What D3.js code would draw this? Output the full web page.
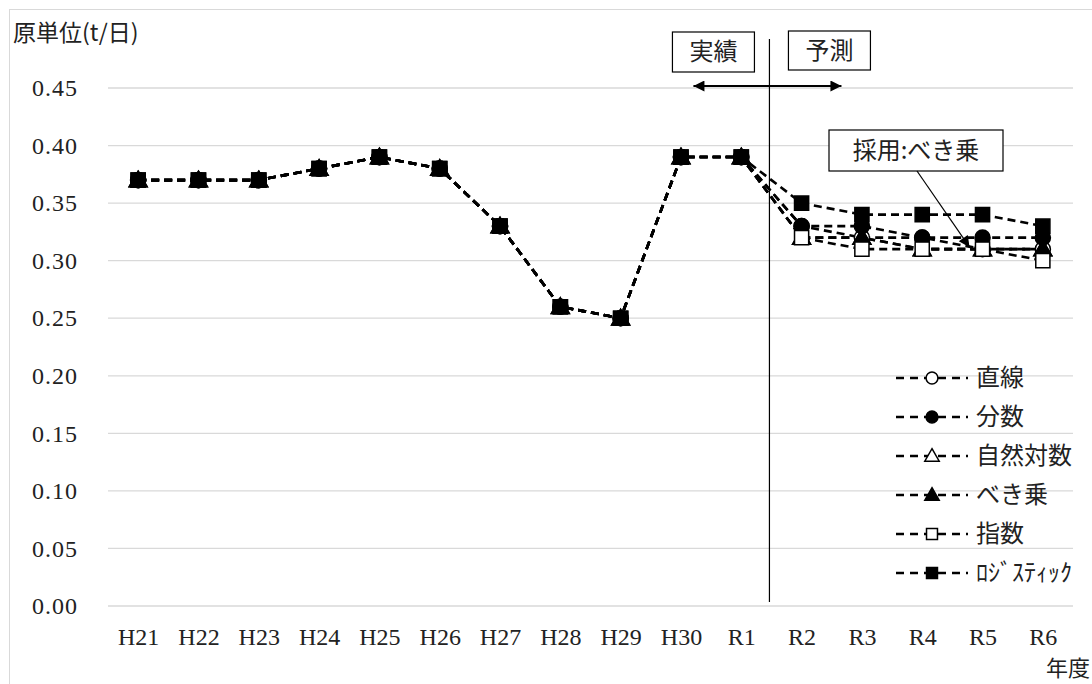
<!DOCTYPE html>
<html><head><meta charset="utf-8">
<script src="https://cdn.jsdelivr.net/npm/d3@7"></script>
<style>body{margin:0;background:#fff}svg{display:block}</style>
</head><body>
<svg id="c" width="1092" height="684"></svg>
<script>
const categories = ["H21","H22","H23","H24","H25","H26","H27","H28","H29","H30","R1","R2","R3","R4","R5","R6"];
const actual = [0.37,0.37,0.37,0.38,0.39,0.38,0.33,0.26,0.25,0.39,0.39];
const forecastLinear   = [0.33,0.32,0.32,0.31,0.31];
const forecastFraction = [0.33,0.33,0.32,0.32,0.32];
const forecastLog      = [0.32,0.32,0.31,0.31,0.31];
const forecastPower    = [0.32,0.32,0.31,0.31,0.31];
const forecastExp      = [0.32,0.31,0.31,0.31,0.30];
const forecastLogistic = [0.35,0.34,0.34,0.34,0.33];
const seriesNames = ["直線","分数","自然対数","べき乗","指数","ﾛｼﾞｽﾃｨｯｸ"];
const yTicks = [0,0.05,0.10,0.15,0.20,0.25,0.30,0.35,0.40,0.45];

const series = [
  {name:seriesNames[0], vals:actual.concat(forecastLinear),   shape:"circle",   fill:"#fff"},
  {name:seriesNames[1], vals:actual.concat(forecastFraction), shape:"circle",   fill:"#000"},
  {name:seriesNames[2], vals:actual.concat(forecastLog),      shape:"triangle", fill:"#fff"},
  {name:seriesNames[3], vals:actual.concat(forecastPower),    shape:"triangle", fill:"#000"},
  {name:seriesNames[4], vals:actual.concat(forecastExp),      shape:"square",   fill:"#fff"},
  {name:seriesNames[5], vals:actual.concat(forecastLogistic), shape:"square",   fill:"#000"}
];

const svg = d3.select("#c");
const serif = "'Liberation Serif', 'DejaVu Serif', serif";
const jp = "'Noto Sans CJK JP', 'Noto Sans', sans-serif";

svg.append("rect").attr("x",9.5).attr("y",9.5).attr("width",1090).attr("height",680)
  .attr("fill","none").attr("stroke","#d9d9d9");

const x = d3.scalePoint().domain(categories).range([108,1073]).padding(0.5);
const y = d3.scaleLinear().domain([0,0.45]).range([606,88]);

// grid
svg.append("g").selectAll("line").data(yTicks).join("line")
  .attr("x1",108).attr("x2",1073).attr("y1",d=>y(d)).attr("y2",d=>y(d))
  .attr("stroke","#d9d9d9").attr("stroke-width",1.3);

// y axis labels
const yAxis = svg.append("g").attr("transform","translate(78,0)")
  .call(d3.axisLeft(y).tickValues(yTicks).tickFormat(d3.format(".2f")).tickSize(0).tickPadding(0));
yAxis.select(".domain").remove();
yAxis.attr("font-family",null).attr("font-size",null);
yAxis.selectAll("text").style("font-family",serif).style("font-size","24px").style("letter-spacing","1px").attr("fill","#222");

// x axis labels
const xAxis = svg.append("g").attr("transform","translate(0,628)")
  .call(d3.axisBottom(x).tickSize(0).tickPadding(0));
xAxis.select(".domain").remove();
xAxis.attr("font-family",null).attr("font-size",null);
xAxis.selectAll("text").style("font-family",serif).style("font-size","24px").attr("fill","#222");

// titles
svg.append("text").attr("x",13).attr("y",41).style("font-family",jp).style("font-size","23px").attr("fill","#222").text("原単位(t/日)");
svg.append("text").attr("x",1090).attr("y",676).attr("text-anchor","end").style("font-family",jp).style("font-size","22px").attr("fill","#222").text("年度");

// divider
const divX = (x("R1")+x("R2"))/2 - 2;
svg.append("line").attr("x1",divX).attr("x2",divX).attr("y1",39).attr("y2",602).attr("stroke","#000").attr("stroke-width",1.2);

// boxes
function box(x0,y0,w,h,t,fs){
  svg.append("rect").attr("x",x0).attr("y",y0).attr("width",w).attr("height",h).attr("fill","#fff").attr("stroke","#000").attr("stroke-width",1.2);
  svg.append("text").attr("x",x0+w/2).attr("y",y0+h/2+8).attr("text-anchor","middle").style("font-family",jp).style("font-size",fs+"px").attr("fill","#222").text(t);
}
box(divX-97,32,82,40,"実績",24);
box(divX+19,31,82,39,"予測",24);

const defs = svg.append("defs");
defs.append("marker").attr("id","ah").attr("viewBox","0 0 10 10").attr("refX",10).attr("refY",5)
  .attr("markerWidth",15).attr("markerHeight",11).attr("markerUnits","userSpaceOnUse").attr("orient","auto-start-reverse")
  .append("path").attr("d","M0,0L10,5L0,10Z").attr("fill","#000");
svg.append("line").attr("x1",divX-76).attr("x2",divX+72).attr("y1",86).attr("y2",86)
  .attr("stroke","#000").attr("stroke-width",2).attr("marker-start","url(#ah)").attr("marker-end","url(#ah)");

// lines
const line = d3.line().x((d,i)=>x(categories[i])).y(d=>y(d));
function sym(shape,size){
  const t = shape==="circle"?d3.symbolCircle:shape==="triangle"?d3.symbolTriangle:d3.symbolSquare;
  return d3.symbol().type(t).size(size)();
}
series.forEach(s=>{
  svg.append("path").datum(s.vals).attr("d",line).attr("fill","none").attr("stroke","#000")
    .attr("stroke-width",2.6).attr("stroke-dasharray","8,5");
});
series.forEach(s=>{
  const sz = s.shape==="circle"?180:s.shape==="triangle"?140:200;
  svg.append("g").selectAll("path").data(s.vals).join("path")
    .attr("transform",(d,i)=>`translate(${x(categories[i])},${y(d)+(s.shape==="triangle"?1.5:0)})`)
    .attr("d",sym(s.shape,sz)).attr("fill",s.fill).attr("stroke","#000").attr("stroke-width",1.5);
});

// callout
box(829,130,174,41,"採用:べき乗",24);
defs.append("marker").attr("id","ah2").attr("viewBox","0 0 10 10").attr("refX",10).attr("refY",5)
  .attr("markerWidth",15).attr("markerHeight",11).attr("markerUnits","userSpaceOnUse").attr("orient","auto")
  .append("path").attr("d","M0,0L10,5L0,10Z").attr("fill","#000");
svg.append("line").attr("x1",917).attr("y1",171).attr("x2",x("R5")-13).attr("y2",y(0.31)-2)
  .attr("stroke","#000").attr("stroke-width",1.2).attr("marker-end","url(#ah2)");

// legend
const lg = svg.append("g");
series.forEach((s,i)=>{
  const yy = 378 + i*39;
  lg.append("line").attr("x1",896).attr("x2",968).attr("y1",yy).attr("y2",yy)
    .attr("stroke","#000").attr("stroke-width",2.6).attr("stroke-dasharray","8,6");
  const sz = s.shape==="circle"?110:s.shape==="triangle"?90:120;
  lg.append("path").attr("transform",`translate(932,${yy+(s.shape==="triangle"?1:0)})`).attr("d",sym(s.shape,sz))
    .attr("fill",s.fill).attr("stroke","#000").attr("stroke-width",1.5);
  lg.append("text").attr("x",976).attr("y",yy+8).style("font-family",jp)
    .style("font-size","24px").attr("fill","#222").text(s.name);
});
</script>
</body></html>
